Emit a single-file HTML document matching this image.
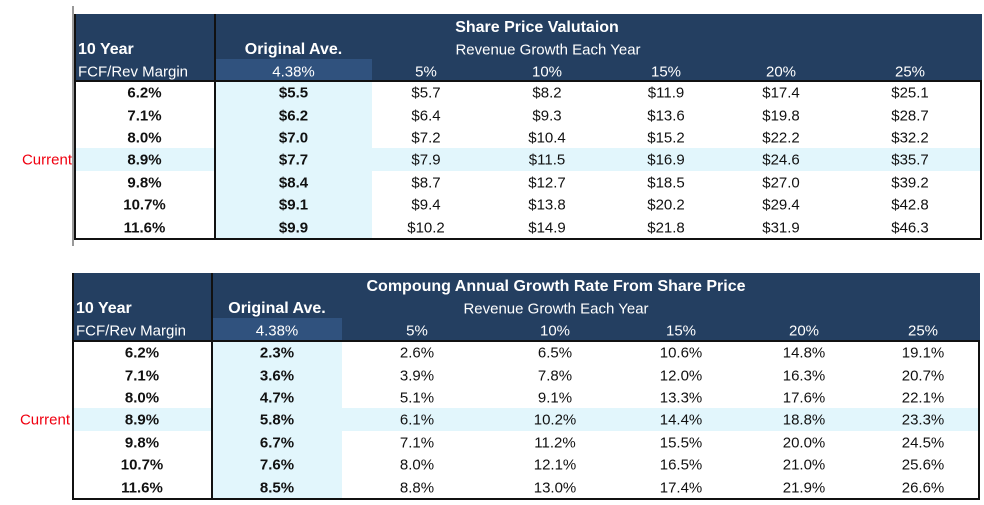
<!DOCTYPE html>
<html><head><meta charset="utf-8"><style>
body{margin:0;width:984px;height:505px;background:#fff;position:relative;overflow:hidden;font-family:"Liberation Sans",Arial,sans-serif;font-size:15px;color:#111}
.a{position:absolute}
.t{position:absolute;white-space:nowrap;transform:translate(-50%,-50%);line-height:1}
.w{color:#fff}
.b{font-weight:bold}
</style></head><body>
<div class="a" style="left:72px;top:6px;width:2px;height:240px;background:#999"></div>
<div id="root"></div>
<script>
const rowLabels=["6.2%","7.1%","8.0%","8.9%","9.8%","10.7%","11.6%"];
const colLabels=["5%","10%","15%","20%","25%"];
const priceOrig=["$5.5","$6.2","$7.0","$7.7","$8.4","$9.1","$9.9"];
const priceVals=[["$5.7","$8.2","$11.9","$17.4","$25.1"],["$6.4","$9.3","$13.6","$19.8","$28.7"],["$7.2","$10.4","$15.2","$22.2","$32.2"],["$7.9","$11.5","$16.9","$24.6","$35.7"],["$8.7","$12.7","$18.5","$27.0","$39.2"],["$9.4","$13.8","$20.2","$29.4","$42.8"],["$10.2","$14.9","$21.8","$31.9","$46.3"]];
const cagrOrig=["2.3%","3.6%","4.7%","5.8%","6.7%","7.6%","8.5%"];
const cagrVals=[["2.6%","6.5%","10.6%","14.8%","19.1%"],["3.9%","7.8%","12.0%","16.3%","20.7%"],["5.1%","9.1%","13.3%","17.6%","22.1%"],["6.1%","10.2%","14.4%","18.8%","23.3%"],["7.1%","11.2%","15.5%","20.0%","24.5%"],["8.0%","12.1%","16.5%","21.0%","25.6%"],["8.8%","13.0%","17.4%","21.9%","26.6%"]];
const root=document.getElementById('root');
function box(x,y,w,h,bg,name){const d=document.createElement('div');d.className='a';d.style.cssText=`left:${x}px;top:${y}px;width:${w}px;height:${h}px;background:${bg}`;


root.appendChild(d);return d;}
function txt(s,x,y,cls,name,extra){const d=document.createElement('div');d.className='t '+(cls||'');d.textContent=s;d.style.left=x+'px';d.style.top=y+'px';if(extra)d.style.cssText+=extra;


root.appendChild(d);return d;}
function table(cfg){
 const {x0,x1,y0,hb,div,hx1,cols,title,titleX,revX,orig,vals,p}=cfg;
 const rh=22.4, yb=y0+hb;
 box(x0,y0,x1-x0,hb,'#243f61',p+'header');
 box(div+1,y0+45,hx1-div-1,hb-45,'#30527e',p+'orig-header-cell');
 box(div+1,yb,hx1-div-1,rh*7,'#e2f6fc',p+'orig-column-bg');
 box(x0,yb+rh*3,x1-x0,rh,'#e2f6fc',p+'current-row-bg');
 box(x0,y0,2,hb+rh*7+2,'#111',p+'left-border');
 box(x1-2,yb,2,rh*7+2,'#111',p+'right-border');
 box(x0,yb-1,x1-x0,2,'#111',p+'header-bottom-border');
 box(x0,yb+rh*7,x1-x0,2,'#111',p+'bottom-border');
 box(div-1,y0,2,hb+rh*7+1,'#111',p+'divider');
 txt(title,titleX,y0+14,'w b',p+'title','font-size:16px');
 txt('10 Year',x0+4,y0+36,'w b',p+'10-year-label','transform:translate(0,-50%);font-size:16px');
 txt('FCF/Rev Margin',x0+4,y0+58,'w',p+'margin-label','transform:translate(0,-50%)');
 txt('Original Ave.',(div+hx1)/2,y0+36,'w b',p+'original-ave-label','font-size:16px');
 txt('4.38%',(div+hx1)/2,y0+58,'w',p+'original-ave-value');
 txt('Revenue Growth Each Year',revX,y0+36,'w',p+'revenue-growth-label');
 colLabels.forEach((c,i)=>txt(c,cols[i],y0+58,'w',p+'col-'+c));
 const lc=(x0+div)/2;
 rowLabels.forEach((r,j)=>{const cy=yb+rh*j+rh/2+1;
  txt(r,lc,cy,'b',p+'row-label-'+j);
  txt(orig[j],(div+hx1)/2,cy,'b',p+'orig-value-'+j);
  vals[j].forEach((v,i)=>txt(v,cols[i],cy,'',p+'cell-'+j+'-'+i));
 });
 txt('Current',x0-2,yb+rh*3.5+1,'',p+'current-label','transform:translate(-100%,-50%);color:#f00010');
}
table({x0:74,x1:982,y0:14,hb:67,div:215,hx1:372,cols:[426,547,666,781,910],title:'Share Price Valutaion',titleX:537,revX:548,orig:priceOrig,vals:priceVals,p:'price-'});
table({x0:72,x1:980,y0:273,hb:68,div:212,hx1:342,cols:[417,555,681,804,923],title:'Compoung Annual Growth Rate From Share Price',titleX:556,revX:556,orig:cagrOrig,vals:cagrVals,p:'cagr-'});
</script>
</body></html>
